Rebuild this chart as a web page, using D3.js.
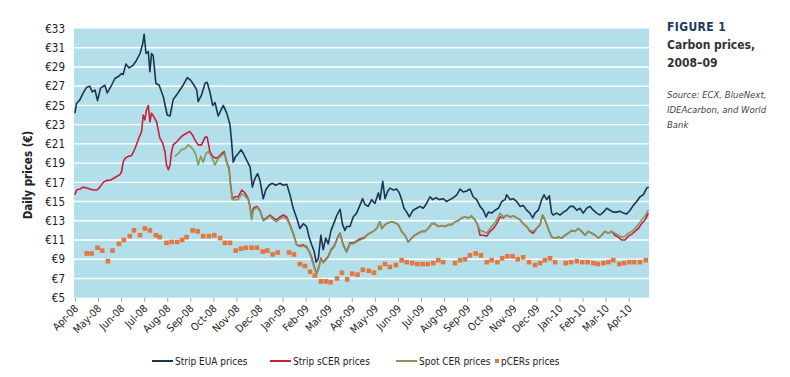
<!DOCTYPE html>
<html>
<head>
<meta charset="utf-8">
<script src="https://cdn.jsdelivr.net/npm/d3@7"></script>
<style>
  body { margin: 0; background: #fff; }
  svg text { font-family: "Liberation Sans Narrow", "DejaVu Sans Condensed", sans-serif; }
</style>
</head>
<body>
<div id="chart"></div>
<script>
// x values are months after 1 Apr 2008, y values are EUR per tonne
var monthLabels = ["Apr-08","May-08","Jun-08","Jul-08","Aug-08","Sep-08","Oct-08","Nov-08","Dec-08",
    "Jan-09","Feb-09","Mar-09","Apr-09","May-09","Jun-09","Jul-09","Aug-09","Sep-09","Oct-09",
    "Nov-09","Dec-09","Jan-10","Feb-10","Mar-10","Apr-10"];
var priceTicks = [5,7,9,11,13,15,17,19,21,23,25,27,29,31,33];

var stripEUA = [[0.00,24.2],[0.07,25.2],[0.22,25.6],[0.36,26.3],[0.51,26.9],[0.65,27.0],[0.75,26.4],[0.87,26.6],
    [0.98,25.5],[1.11,26.8],[1.30,27.1],[1.40,26.3],[1.59,27.1],[1.73,27.8],[1.88,28.0],[2.02,28.3],[2.09,28.2],
    [2.21,29.3],[2.35,28.9],[2.53,29.2],[2.67,29.7],[2.82,30.4],[2.93,31.3],[3.00,32.4],[3.08,30.4],[3.18,30.6],
    [3.25,28.5],[3.32,30.4],[3.39,30.2],[3.51,27.3],[3.65,27.1],[3.83,25.9],[4.00,24.0],[4.12,23.9],[4.26,25.6],
    [4.41,26.1],[4.55,26.6],[4.69,27.1],[4.87,27.9],[5.02,27.6],[5.16,27.1],[5.28,26.6],[5.34,25.4],[5.49,26.1],
    [5.64,27.3],[5.73,27.4],[5.85,26.4],[5.97,25.0],[6.07,25.3],[6.21,23.9],[6.33,24.5],[6.43,25.0],[6.58,24.2],
    [6.72,23.0],[6.79,21.2],[6.86,19.1],[6.97,19.7],[7.08,20.0],[7.20,20.4],[7.30,20.0],[7.44,19.3],[7.59,18.6],
    [7.69,16.5],[7.80,17.4],[7.92,17.9],[8.02,17.2],[8.16,15.3],[8.27,16.2],[8.41,16.7],[8.55,16.9],[8.70,16.7],
    [8.89,16.9],[9.03,16.7],[9.18,16.8],[9.32,15.7],[9.46,14.3],[9.61,13.3],[9.75,12.2],[9.90,12.7],[10.04,12.4],
    [10.16,11.2],[10.26,10.5],[10.37,9.8],[10.45,8.7],[10.55,9.1],[10.66,11.5],[10.76,10.0],[10.87,11.2],
    [10.98,10.6],[11.10,12.0],[11.20,12.6],[11.34,13.5],[11.49,14.2],[11.60,12.6],[11.70,12.0],[11.78,12.4],
    [11.92,12.4],[12.06,13.4],[12.21,13.8],[12.35,14.6],[12.47,15.3],[12.57,14.7],[12.71,14.5],[12.86,15.2],
    [13.00,14.8],[13.15,15.9],[13.22,15.2],[13.34,17.1],[13.44,15.3],[13.54,16.0],[13.65,16.4],[13.80,16.2],
    [13.94,16.3],[14.06,15.9],[14.16,15.2],[14.26,14.3],[14.38,13.9],[14.49,13.4],[14.66,14.1],[14.81,14.3],
    [14.95,14.5],[15.10,14.3],[15.24,14.8],[15.39,15.5],[15.50,15.2],[15.65,15.4],[15.79,15.2],[15.96,15.3],
    [16.11,15.0],[16.25,15.2],[16.40,15.4],[16.55,15.7],[16.69,16.3],[16.83,16.0],[16.98,16.1],[17.12,16.3],
    [17.26,15.5],[17.41,15.2],[17.56,14.5],[17.70,14.1],[17.82,13.4],[17.92,13.9],[18.06,13.8],[18.21,14.1],
    [18.35,14.3],[18.50,15.0],[18.64,15.2],[18.71,15.7],[18.86,15.2],[19.00,15.3],[19.15,15.0],[19.29,14.5],
    [19.43,14.6],[19.58,14.1],[19.72,13.8],[19.84,13.3],[19.94,13.8],[20.08,14.1],[20.23,15.2],[20.33,15.7],
    [20.45,15.2],[20.56,15.6],[20.66,13.8],[20.73,13.6],[20.88,13.8],[21.02,13.6],[21.17,13.9],[21.31,14.1],
    [21.46,14.5],[21.60,14.5],[21.75,14.1],[21.89,14.3],[22.03,13.8],[22.18,14.3],[22.32,14.5],[22.47,14.1],
    [22.61,13.8],[22.76,13.6],[22.90,13.9],[23.05,14.3],[23.19,14.1],[23.33,13.9],[23.48,13.9],[23.62,14.0],
    [23.77,13.8],[23.91,13.7],[24.06,14.1],[24.20,14.6],[24.35,15.0],[24.49,15.5],[24.63,15.7],[24.78,16.4],
    [24.87,16.5]];

var stripSCER = [[0.00,15.7],[0.07,16.2],[0.22,16.3],[0.36,16.5],[0.51,16.4],[0.65,16.3],[0.79,16.2],[0.96,16.2],
    [1.08,16.5],[1.23,17.0],[1.37,17.2],[1.52,17.2],[1.66,17.4],[1.81,17.6],[1.95,17.8],[2.02,18.1],[2.09,19.1],
    [2.17,19.5],[2.31,19.7],[2.46,19.8],[2.60,20.5],[2.74,21.4],[2.89,22.3],[2.96,24.0],[3.03,23.5],[3.10,24.5],
    [3.18,25.0],[3.25,23.3],[3.32,24.2],[3.42,23.8],[3.54,23.3],[3.68,21.6],[3.80,21.1],[3.90,20.2],[3.97,18.8],
    [4.05,18.3],[4.12,18.8],[4.19,20.2],[4.26,20.9],[4.41,21.2],[4.55,21.6],[4.69,21.9],[4.84,22.1],[4.98,22.3],
    [5.10,21.9],[5.20,21.4],[5.34,20.9],[5.49,20.9],[5.64,21.7],[5.73,21.7],[5.85,20.2],[5.97,19.7],[6.11,19.5],
    [6.21,19.6],[6.36,20.0],[6.47,20.2],[6.58,19.1],[6.68,18.5],[6.75,16.7],[6.82,15.3],[6.94,15.5],[7.08,15.5],
    [7.23,16.2],[7.37,15.9],[7.51,15.3],[7.59,14.5],[7.66,13.3],[7.73,14.3],[7.88,14.5],[8.02,14.1],[8.16,13.1],
    [8.31,13.3],[8.45,13.6],[8.60,13.3],[8.74,13.1],[8.89,13.4],[9.03,13.6],[9.18,13.4],[9.32,12.6],[9.46,11.7],
    [9.61,10.5],[9.75,10.4],[9.90,10.5],[10.04,10.3],[10.16,9.8],[10.26,9.2],[10.40,8.0],[10.47,7.5],[10.57,8.2],
    [10.66,9.1],[10.76,8.7],[10.87,9.0],[10.98,9.3],[11.10,10.0],[11.24,10.4],[11.39,11.3],[11.49,11.7],
    [11.63,10.5],[11.78,9.8],[11.92,10.7],[12.06,10.7],[12.21,10.9],[12.35,11.1],[12.57,11.3],[12.64,11.5],
    [12.78,11.7],[12.93,11.9],[13.08,12.2],[13.22,12.9],[13.30,12.2],[13.44,12.6],[13.58,12.8],[13.73,12.9],
    [13.87,12.8],[14.01,12.6],[14.16,11.9],[14.30,11.5],[14.44,10.8],[14.59,11.2],[14.73,11.5],[14.88,11.7],
    [15.03,11.9],[15.17,11.9],[15.31,12.2],[15.46,12.7],[15.60,12.7],[15.75,12.4],[15.89,12.5],[16.04,12.4],
    [16.18,12.6],[16.33,12.6],[16.47,12.9],[16.61,13.0],[16.76,13.3],[16.90,13.4],[17.05,13.3],[17.19,13.5],
    [17.33,13.1],[17.45,12.6],[17.56,11.5],[17.70,11.5],[17.85,11.4],[17.99,11.9],[18.14,12.2],[18.28,12.7],
    [18.43,13.4],[18.57,13.3],[18.71,13.6],[18.86,13.4],[19.00,13.5],[19.15,13.3],[19.29,13.1],[19.43,12.7],
    [19.58,12.4],[19.72,11.9],[19.86,11.7],[20.01,12.2],[20.16,12.6],[20.27,13.6],[20.37,13.1],[20.51,12.2],
    [20.66,11.3],[20.81,11.2],[20.95,11.3],[21.10,11.2],[21.24,11.5],[21.38,11.7],[21.53,12.0],[21.67,11.9],
    [21.82,12.2],[21.96,11.9],[22.11,11.5],[22.25,11.9],[22.40,11.7],[22.54,11.5],[22.69,11.2],[22.83,11.5],
    [22.97,11.9],[23.11,11.7],[23.26,11.9],[23.40,11.5],[23.55,11.3],[23.69,11.0],[23.84,11.0],[23.98,11.4],
    [24.13,11.6],[24.27,11.9],[24.42,12.2],[24.56,12.7],[24.71,13.1],[24.85,13.8]];

var spotCER = [[4.33,19.7],[4.48,20.0],[4.62,20.4],[4.77,20.5],[4.91,20.9],[5.02,20.7],[5.13,20.4],[5.25,19.8],
    [5.34,18.8],[5.45,19.7],[5.56,19.1],[5.68,20.0],[5.78,20.2],[5.92,19.7],[6.07,18.8],[6.21,19.5],[6.36,19.8],
    [6.47,20.0],[6.58,19.0],[6.68,18.3],[6.75,16.5],[6.82,15.2],[6.94,15.2],[7.08,15.2],[7.23,15.8],[7.37,15.6],
    [7.51,15.2],[7.59,14.3],[7.66,13.1],[7.73,14.1],[7.88,14.4],[8.02,14.0],[8.16,13.0],[8.31,13.2],[8.45,13.5],
    [8.60,13.1],[8.74,12.9],[8.89,13.2],[9.03,13.4],[9.18,13.2],[9.32,12.5],[9.46,11.6],[9.61,10.5],[9.75,10.3],
    [9.90,10.4],[10.04,10.2],[10.16,9.7],[10.26,9.0],[10.40,7.9],[10.47,7.4],[10.57,8.1],[10.66,9.0],[10.76,8.6],
    [10.87,8.9],[10.98,9.2],[11.10,9.9],[11.24,10.3],[11.39,11.2],[11.49,11.6],[11.63,10.4],[11.78,9.7],
    [11.92,10.6],[12.06,10.6],[12.21,10.8],[12.35,11.0],[12.57,11.2],[12.64,11.5],[12.78,11.7],[12.93,11.9],
    [13.08,12.2],[13.22,12.9],[13.30,12.2],[13.44,12.6],[13.58,12.8],[13.73,12.9],[13.87,12.8],[14.01,12.6],
    [14.16,11.9],[14.30,11.5],[14.44,10.8],[14.59,11.2],[14.73,11.5],[14.88,11.7],[15.03,11.9],[15.17,11.9],
    [15.31,12.2],[15.46,12.7],[15.60,12.7],[15.75,12.4],[15.89,12.5],[16.04,12.4],[16.18,12.6],[16.33,12.6],
    [16.47,12.9],[16.61,13.0],[16.76,13.3],[16.90,13.4],[17.05,13.3],[17.19,13.5],[17.33,13.1],[17.45,12.6],
    [17.56,12.0],[17.70,11.9],[17.85,11.7],[17.99,12.2],[18.14,12.6],[18.28,13.1],[18.43,13.8],[18.57,13.4],
    [18.71,13.6],[18.86,13.4],[19.00,13.5],[19.15,13.3],[19.29,13.1],[19.43,12.7],[19.58,12.4],[19.72,12.0],
    [19.86,11.9],[20.01,12.2],[20.16,12.6],[20.27,13.6],[20.37,13.1],[20.51,12.2],[20.66,11.3],[20.81,11.2],
    [20.95,11.3],[21.10,11.2],[21.24,11.5],[21.38,11.7],[21.53,12.0],[21.67,11.9],[21.82,12.2],[21.96,11.9],
    [22.11,11.5],[22.25,11.9],[22.40,11.7],[22.54,11.5],[22.69,11.2],[22.83,11.5],[22.97,11.9],[23.11,11.7],
    [23.26,11.9],[23.40,11.7],[23.55,11.5],[23.69,11.3],[23.84,11.4],[23.98,11.7],[24.13,11.9],[24.27,12.2],
    [24.42,12.6],[24.56,13.1],[24.71,13.5],[24.85,14.1]];

var pCERs = [[0.51,9.6],[0.72,9.6],[0.98,10.2],[1.18,9.9],[1.43,8.8],[1.63,9.9],[1.91,10.6],[2.12,11.0],
    [2.38,11.4],[2.56,12.0],[2.82,11.5],[3.03,12.2],[3.25,12.0],[3.51,11.5],[3.68,11.3],[3.97,10.7],[4.19,10.8],
    [4.43,10.8],[4.65,11.0],[4.84,11.3],[5.10,12.0],[5.32,11.9],[5.56,11.4],[5.81,11.4],[6.04,11.5],[6.29,11.2],
    [6.50,10.7],[6.72,10.7],[6.97,9.9],[7.20,10.1],[7.41,10.2],[7.66,10.2],[7.89,10.2],[8.14,9.8],[8.34,9.9],
    [8.57,9.5],[8.79,9.7],[9.28,9.7],[9.49,9.5],[9.75,8.5],[9.97,8.3],[10.19,7.7],[10.40,7.3],[10.66,6.7],
    [10.88,6.7],[11.08,6.6],[11.36,7.0],[11.57,7.6],[11.80,6.9],[12.02,7.5],[12.25,7.4],[12.48,7.9],[12.74,7.8],
    [12.96,7.6],[13.22,8.1],[13.44,8.5],[13.65,8.2],[13.91,8.4],[14.16,8.9],[14.38,8.7],[14.62,8.6],[14.84,8.5],
    [15.07,8.5],[15.29,8.5],[15.53,8.6],[15.75,8.9],[15.96,8.7],[16.47,8.6],[16.69,8.9],[16.91,9.0],[17.12,9.4],
    [17.37,9.6],[17.60,9.4],[17.85,8.7],[18.06,8.9],[18.31,8.7],[18.52,9.1],[18.74,9.3],[18.97,9.3],[19.19,9.0],
    [19.43,9.2],[19.68,8.7],[19.94,8.4],[20.16,8.6],[20.37,8.9],[20.59,9.1],[20.81,8.7],[21.27,8.6],[21.50,8.7],
    [21.75,8.8],[21.99,8.7],[22.22,8.7],[22.47,8.6],[22.66,8.5],[22.90,8.6],[23.12,8.7],[23.33,8.9],[23.59,8.5],
    [23.80,8.6],[24.03,8.7],[24.24,8.7],[24.49,8.7],[24.74,8.9]];

var seriesNames = ["Strip EUA prices", "Strip sCER prices", "Spot CER prices", "pCERs prices"];
var seriesColors = ["#1b3553", "#c8203a", "#86995a", "#e2773f"];

var width = 790, height = 377;
var plotLeft = 74, plotRight = 649, plotTop = 28.5, plotBottom = 297.7;

var svg = d3.select("#chart")
    .append("svg")
    .attr("width", width)
    .attr("height", height);

svg.append("rect")
    .attr("width", width).attr("height", height)
    .attr("fill", "#fff");

var x = d3.scaleLinear()
    .domain([-0.04, 24.88])
    .range([plotLeft, plotRight]);

var y = d3.scaleLinear()
    .domain([5, 33])
    .range([plotBottom, plotTop]);

// plot background
svg.append("rect")
    .attr("x", plotLeft).attr("y", plotTop)
    .attr("width", plotRight - plotLeft).attr("height", plotBottom - plotTop)
    .attr("fill", "#b3dfeb");

// white gridlines
svg.append("g")
    .selectAll("line")
    .data(priceTicks.filter(function(d){ return d > 5 && d < 33; }))
    .enter()
    .append("line")
    .attr("x1", plotLeft).attr("x2", plotRight)
    .attr("y1", function(d){ return y(d); })
    .attr("y2", function(d){ return y(d); })
    .attr("stroke", "#fff")
    .attr("stroke-width", 1.4);

// y axis labels
var yAxis = d3.axisLeft(y)
    .tickValues(priceTicks)
    .tickSize(0)
    .tickPadding(9)
    .tickFormat(function(d){ return "€" + d; });

var yg = svg.append("g")
    .attr("transform", "translate(" + plotLeft + ",0)")
    .call(yAxis);
yg.select(".domain").remove();
yg.selectAll("text")
    .attr("font-size", 11.5)
    .attr("fill", "#222");

// x axis, one tick per month
var xAxis = d3.axisBottom(x)
    .tickValues(d3.range(monthLabels.length))
    .tickSize(4)
    .tickFormat(function(d){ return monthLabels[d]; });

var xg = svg.append("g")
    .attr("transform", "translate(0," + plotBottom + ")")
    .call(xAxis);
xg.select(".domain").remove();
xg.selectAll(".tick line").attr("stroke", "#9aa");
xg.selectAll("text")
    .attr("font-size", 10.5)
    .attr("fill", "#222")
    .attr("text-anchor", "end")
    .attr("y", 0)
    .attr("dy", "0.35em")
    .attr("transform", "translate(1,9) rotate(-45)");

// let the page font apply to the axes
d3.selectAll("g[font-family]").attr("font-family", null);

// lines
var line = d3.line()
    .x(function(d){ return x(d[0]); })
    .y(function(d){ return y(d[1]); });

[stripEUA, stripSCER, spotCER].forEach(function(data, i){
    svg.append("path")
        .datum(data)
        .attr("class", "series")
        .attr("fill", "none")
        .attr("stroke", seriesColors[i])
        .attr("stroke-width", 1.6)
        .attr("stroke-linejoin", "round")
        .attr("d", line);
});

// pCER squares
var sq = 4.6;
svg.append("g")
    .selectAll("rect")
    .data(pCERs)
    .enter()
    .append("rect")
    .attr("x", function(d){ return x(d[0]) - sq / 2; })
    .attr("y", function(d){ return y(d[1]) - sq / 2; })
    .attr("width", sq).attr("height", sq)
    .attr("fill", seriesColors[3]);

// y title
svg.append("text")
    .attr("transform", "translate(32,175) rotate(-90)")
    .attr("text-anchor", "middle")
    .attr("font-size", 11.5)
    .attr("font-weight", "bold")
    .attr("fill", "#222")
    .text("Daily prices (€)");

// legend
var legendX = [152, 270, 396, 494];
var legend = svg.append("g").attr("transform", "translate(0,361)");
seriesNames.forEach(function(name, i){
    var g = legend.append("g").attr("transform", "translate(" + legendX[i] + ",0)");
    if (i < 3) {
        g.append("line")
            .attr("x1", 0).attr("x2", 21)
            .attr("stroke", seriesColors[i])
            .attr("stroke-width", 2);
        g.append("text")
            .attr("x", 23).attr("dy", "0.35em")
            .attr("font-size", 10)
            .attr("fill", "#222")
            .text(name);
    } else {
        g.append("rect")
            .attr("x", 1).attr("y", -2).attr("width", 4).attr("height", 4)
            .attr("fill", seriesColors[i]);
        g.append("text")
            .attr("x", 7).attr("dy", "0.35em")
            .attr("font-size", 10)
            .attr("fill", "#222")
            .text(name);
    }
});

// figure title and source
var titleX = 667;
svg.append("text").attr("x", titleX).attr("y", 31)
    .attr("font-size", 12).attr("font-weight", "bold").attr("fill", "#1d3a5c")
    .style("letter-spacing", "0.4px")
    .text("FIGURE 1");
svg.append("text").attr("x", titleX).attr("y", 49)
    .attr("font-size", 12).attr("font-weight", "bold").attr("fill", "#333")
    .text("Carbon prices,");
svg.append("text").attr("x", titleX).attr("y", 67)
    .attr("font-size", 12).attr("font-weight", "bold").attr("fill", "#333")
    .text("2008–09");
["Source: ECX, BlueNext,", "IDEAcarbon, and World", "Bank"].forEach(function(t, i){
    svg.append("text").attr("x", titleX).attr("y", 98 + i * 15)
        .attr("font-size", 9.5).attr("font-style", "italic").attr("fill", "#444")
        .text(t);
});
</script>
</body>
</html>
